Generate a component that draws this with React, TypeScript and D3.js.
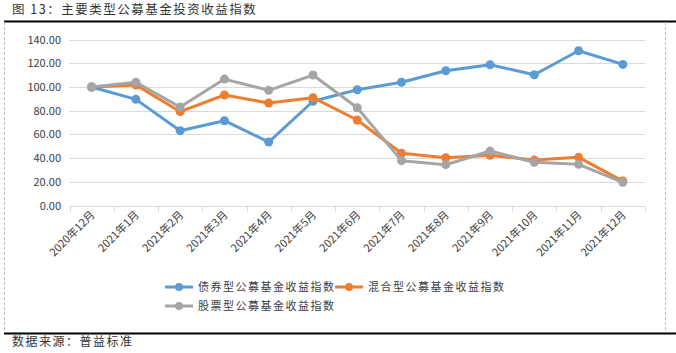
import * as d3 from 'd3';
import { useRef, useEffect } from 'react';

const categories = [
  '2020年12月', '2021年1月', '2021年2月', '2021年3月', '2021年4月', '2021年5月', '2021年6月',
  '2021年7月', '2021年8月', '2021年9月', '2021年10月', '2021年11月', '2021年12月',
];
const bondIndex = [100, 89.6, 63.2, 71.6, 53.6, 88, 97.7, 104, 113.7, 118.8, 110.4, 130.6, 119.1];
const hybridIndex = [100, 101.7, 79.2, 93.3, 86.5, 91, 72.2, 44.1, 40.4, 42.4, 38.4, 40.7, 20.7];
const stockIndex = [100, 104, 83.1, 106.7, 97.2, 110.1, 82.5, 37.9, 34.5, 46, 36.5, 34.8, 19.6];
const yTicks = [0, 20, 40, 60, 80, 100, 120, 140];
const seriesNames = ['债券型公募基金收益指数', '混合型公募基金收益指数', '股票型公募基金收益指数'];
const seriesColors = ['#5b9bd5', '#ed7d31', '#a5a5a5'];

const W = 676;
const H = 353;
const FONT = '"Noto Sans CJK SC", "Noto Sans", sans-serif';

const App: React.FC = () => {
  const ref = useRef<SVGSVGElement>(null);

  useEffect(() => {
    if (!ref.current) return;
    const svg = d3.select(ref.current)
      .attr('width', W)
      .attr('height', H)
      .style('font-family', FONT);
    svg.selectAll('*').remove();

    svg.append('rect').attr('width', W).attr('height', H).attr('fill', '#fff');

    // title and frame
    svg.append('text')
      .attr('x', 12).attr('y', 14)
      .attr('font-size', 12.5)
      .attr('fill', '#333')
      .attr('letter-spacing', 1.5)
      .text('图 13：主要类型公募基金投资收益指数');
    svg.append('line')
      .attr('x1', 4).attr('x2', W).attr('y1', 21.5).attr('y2', 21.5)
      .attr('stroke', '#000').attr('stroke-width', 2);
    svg.append('line')
      .attr('x1', 4).attr('x2', W).attr('y1', 333.5).attr('y2', 333.5)
      .attr('stroke', '#000').attr('stroke-width', 2);
    [4.5, 665.5].forEach(x => {
      svg.append('line')
        .attr('x1', x).attr('x2', x).attr('y1', 22).attr('y2', 332)
        .attr('stroke', '#bbb').attr('stroke-dasharray', '3,2');
    });
    svg.append('text')
      .attr('x', 12).attr('y', 346)
      .attr('font-size', 12)
      .attr('fill', '#333')
      .attr('letter-spacing', 1.5)
      .text('数据来源：普益标准');

    const x = d3.scaleBand<string>().domain(categories).range([69.5, 645]);
    const y = d3.scaleLinear().domain([0, 140]).range([205.6, 39.6]);

    // grid
    const grid = svg.append('g');
    grid.selectAll('line')
      .data(yTicks.filter(t => t > 0))
      .join('line')
      .attr('x1', 69.5).attr('x2', 645)
      .attr('y1', d => Math.round(y(d)) + 0.5).attr('y2', d => Math.round(y(d)) + 0.5)
      .attr('stroke', '#d9d9d9');

    grid.selectAll('text')
      .data(yTicks)
      .join('text')
      .attr('x', 61).attr('y', d => y(d) + 4)
      .attr('text-anchor', 'end')
      .attr('font-size', 11)
      .attr('fill', '#404040')
      .text(d => d.toFixed(2));

    // x axis
    const ax = svg.append('g');
    const axY = Math.round(y(0)) + 0.5;
    ax.append('line')
      .attr('x1', 69.5).attr('x2', 645).attr('y1', axY).attr('y2', axY)
      .attr('stroke', '#d9d9d9');
    const bounds = categories.map(c => x(c)!).concat([645]);
    ax.selectAll('line.tick')
      .data(bounds)
      .join('line')
      .attr('class', 'tick')
      .attr('x1', d => Math.round(d) + 0.5).attr('x2', d => Math.round(d) + 0.5)
      .attr('y1', axY).attr('y2', axY + 5)
      .attr('stroke', '#d9d9d9');
    ax.selectAll('text')
      .data(categories)
      .join('text')
      .attr('transform', d => `translate(${x(d)! + x.bandwidth() / 2 + 4},${axY + 9}) rotate(-45)`)
      .attr('text-anchor', 'end')
      .attr('font-size', 11)
      .attr('fill', '#404040')
      .text(d => d);

    const allSeries = [bondIndex, hybridIndex, stockIndex];
    const line = d3.line<number>()
      .x((_, i) => x(categories[i])! + x.bandwidth() / 2)
      .y(d => y(d));

    // draw stock first so it sits under? keep Excel order: bond, hybrid, stock
    allSeries.forEach((vals, si) => {
      const g = svg.append('g');
      g.append('path')
        .datum(vals)
        .attr('d', line)
        .attr('fill', 'none')
        .attr('stroke', seriesColors[si])
        .attr('stroke-width', 3)
        .attr('stroke-linejoin', 'round');
      g.selectAll('circle')
        .data(vals)
        .join('circle')
        .attr('cx', (_, i) => x(categories[i])! + x.bandwidth() / 2)
        .attr('cy', d => y(d))
        .attr('r', 4.5)
        .attr('fill', seriesColors[si]);
    });

    // legend
    const legendPos = [[165, 287], [335, 287], [165, 306]];
    seriesNames.forEach((name, i) => {
      const [lx, ly] = legendPos[i];
      const g = svg.append('g');
      g.append('line')
        .attr('x1', lx).attr('x2', lx + 28).attr('y1', ly).attr('y2', ly)
        .attr('stroke', seriesColors[i]).attr('stroke-width', 3);
      g.append('circle')
        .attr('cx', lx + 14).attr('cy', ly).attr('r', 4)
        .attr('fill', seriesColors[i]);
      g.append('text')
        .attr('x', lx + 33).attr('y', ly + 4)
        .attr('font-size', 11)
        .attr('fill', '#404040')
        .attr('letter-spacing', 1.5)
        .text(name);
    });
  }, []);

  return (
    <div style={{ position: 'absolute', left: 0, top: 0 }}>
      <svg ref={ref} style={{ display: 'block' }}></svg>
    </div>
  );
};

export default App;
